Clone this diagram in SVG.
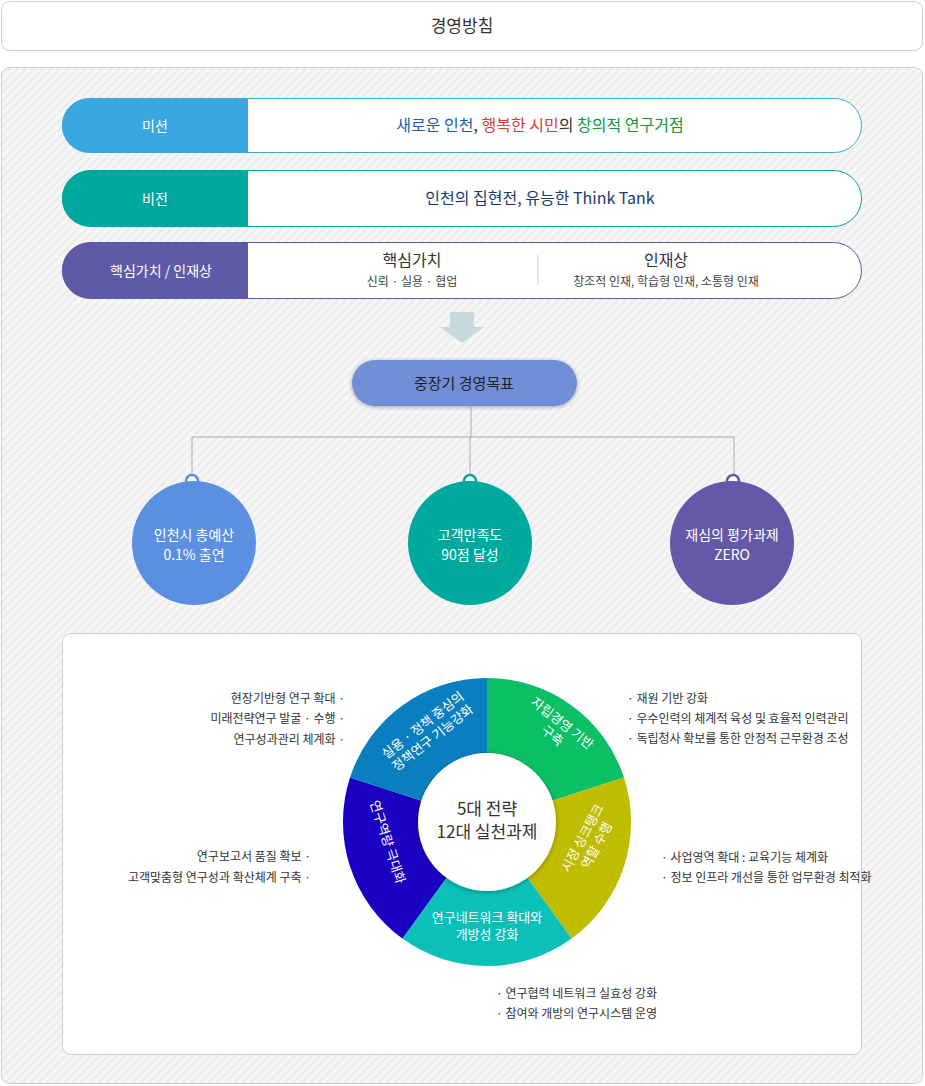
<svg xmlns="http://www.w3.org/2000/svg" width="925" height="1086" viewBox="0 0 925 1086">
<defs>
<pattern id="stripes" width="6" height="6" patternUnits="userSpaceOnUse" patternTransform="rotate(45)">
<rect width="6" height="6" fill="#f6f6f6"/><rect width="2" height="6" fill="#ececec"/>
</pattern>
<filter id="sh" x="-20%" y="-20%" width="140%" height="140%"><feDropShadow dx="0" dy="1" stdDeviation="2" flood-color="#000" flood-opacity="0.35"/></filter>
<style>
text{font-family:"Noto Sans CJK KR","Noto Sans",sans-serif}
.w{fill:#fff}
.lbl{font-size:14px;fill:#fff;text-anchor:middle}
.d{fill:#333}
.b{font-size:12px;fill:#333}
.seg{font-size:13px;fill:#fff;text-anchor:middle}
</style>
</defs>
<rect x="0" y="0" width="925" height="1086" fill="#fff"/>
<g id="title"><rect x="1.5" y="1.5" width="921" height="49" rx="8" fill="#fff" stroke="#cfcfcf"/>
<text x="462" y="32" font-size="17" text-anchor="middle" fill="#333">경영방침</text></g>
<rect x="1.5" y="67.5" width="921" height="1016" rx="8" fill="url(#stripes)" stroke="#cfcfcf"/>

<g id="mission">
<rect x="62.5" y="98.5" width="799" height="54" rx="27" fill="#fff" stroke="#3aa8e0"/>
<path d="M89,98.5 H248 V152.5 H89 A27,27 0 0 1 89,98.5 Z" fill="#3aa8e0"/>
<text x="155" y="131" class="lbl">미션</text>
<text x="540" y="131" font-size="16" text-anchor="middle"><tspan fill="#1a5bb5">새로운 인천</tspan><tspan fill="#333">, </tspan><tspan fill="#e03a3a">행복한 시민</tspan><tspan fill="#333">의 </tspan><tspan fill="#0a9a3a">창의적 연구거점</tspan></text>
</g>
<g id="vision">
<rect x="62.5" y="170.5" width="799" height="56" rx="28" fill="#fff" stroke="#00a99d"/>
<path d="M90,170.5 H248 V226.5 H90 A28,28 0 0 1 90,170.5 Z" fill="#00a99d"/>
<text x="155" y="204" class="lbl">비전</text>
<text x="540" y="204" font-size="16" text-anchor="middle" fill="#1a3a6a">인천의 집현전, 유능한 Think Tank</text>
</g>
<g id="values">
<rect x="62.5" y="242.5" width="799" height="56" rx="28" fill="#fff" stroke="#5f5aa8"/>
<path d="M90,242.5 H248 V298.5 H90 A28,28 0 0 1 90,242.5 Z" fill="#5f5aa8"/>
<text x="161" y="276" class="lbl">핵심가치 / 인재상</text>
<text x="412" y="266" font-size="16" text-anchor="middle" fill="#333">핵심가치</text>
<text x="412" y="286" font-size="12" text-anchor="middle" fill="#444">신뢰 · 실용 · 협업</text>
<line x1="538" y1="255" x2="538" y2="285" stroke="#ccc"/>
<text x="666" y="266" font-size="16" text-anchor="middle" fill="#333">인재상</text>
<text x="666" y="286" font-size="12" text-anchor="middle" fill="#444">창조적 인재, 학습형 인재, 소통형 인재</text>
</g>
<polygon id="arrow" points="450,312 474,312 474,327 484,327 462,343 440,327 450,327" fill="#c8d8df"/>

<g id="goal">
<rect x="352" y="360" width="225" height="46" rx="23" fill="#6f8fd6" filter="url(#sh)"/>
<text x="464" y="389" font-size="15" text-anchor="middle" fill="#222">중장기 경영목표</text>
</g>
<g id="connectors" fill="none" stroke="#aaa">
<path d="M471,406 V437 M192,475 V437 H734 V475 M470,437 V475"/>
<polyline points="352,699 383,699 395,710" stroke="#0a7fc0"/>
<polyline points="583,700 617,700" stroke="#0abf64"/>
<polyline points="586,700 577,708" stroke="#0abf64"/>
<polyline points="630,869 643,869 656,855" stroke="#c0bc00"/>
<polyline points="318,855 331,869 348,869" stroke="#1a00c0"/>
<polyline points="475,966 475,980 488,990" stroke="#0ac0b8"/>
</g>
<g id="goal1"><circle cx="192" cy="481" r="6" fill="#fff" stroke="#5b8fe0" stroke-width="2.5"/>
<circle cx="194" cy="543" r="62" fill="#5b8fe0"/>
<text x="194" y="540" class="lbl">인천시 총예산</text><text x="194" y="560" class="lbl">0.1% 출연</text></g>
<g id="goal2"><circle cx="470" cy="481" r="6" fill="#fff" stroke="#00a99d" stroke-width="2.5"/>
<circle cx="470" cy="543" r="62" fill="#00a99d"/>
<text x="470" y="540" class="lbl">고객만족도</text><text x="470" y="560" class="lbl">90점 달성</text></g>
<g id="goal3"><circle cx="733" cy="481" r="6" fill="#fff" stroke="#6458a8" stroke-width="2.5"/>
<circle cx="732" cy="543" r="62" fill="#6458a8"/>
<text x="732" y="540" class="lbl">재심의 평가과제</text><text x="732" y="560" class="lbl">ZERO</text></g>

<rect x="62.5" y="633.5" width="799" height="421" rx="8" fill="#fff" stroke="#cfcfcf"/>

<g id="ring">
<path d="M487,822 L487,678 A144,144 0 0 1 624,777.5 Z" fill="#0abf64"/>
<path d="M487,822 L624,777.5 A144,144 0 0 1 571.6,938.5 Z" fill="#c0bc00"/>
<path d="M487,822 L571.6,938.5 A144,144 0 0 1 402.4,938.5 Z" fill="#0ac0b8"/>
<path d="M487,822 L402.4,938.5 A144,144 0 0 1 350,777.5 Z" fill="#1a00c0"/>
<path d="M487,822 L350,777.5 A144,144 0 0 1 487,678 Z" fill="#0a7fc0"/>
<circle cx="487" cy="822" r="69" fill="#fff" filter="url(#sh)"/>
<text x="487" y="815" font-size="17" text-anchor="middle" fill="#333">5대 전략</text>
<text x="487" y="838" font-size="17" text-anchor="middle" fill="#333">12대 실천과제</text>
<g transform="translate(428,732) rotate(-38)"><text class="seg" y="-4">실용 · 정책 중심의</text><text class="seg" y="12">정책연구 기능강화</text></g>
<g transform="translate(557,730) rotate(38)"><text class="seg" y="-4">자립경영 기반</text><text class="seg" y="12">구축</text></g>
<g transform="translate(590,842) rotate(-62)"><text class="seg" y="-4">시정 싱크탱크</text><text class="seg" y="12">역할 수행</text></g>
<text class="seg" x="487" y="922">연구네트워크 확대와</text><text class="seg" x="487" y="939">개방성 강화</text>
<g transform="translate(388,842) rotate(72)"><text class="seg" y="5">연구역량 극대화</text></g>
</g>

<g id="notes">
<text class="b" x="345" y="703" text-anchor="end">현장기반형 연구 확대 ·</text>
<text class="b" x="345" y="723" text-anchor="end">미래전략연구 발굴 · 수행 ·</text>
<text class="b" x="345" y="744" text-anchor="end">연구성과관리 체계화 ·</text>
<text class="b" x="627" y="703">· 재원 기반 강화</text>
<text class="b" x="627" y="723">· 우수인력의 체계적 육성 및 효율적 인력관리</text>
<text class="b" x="627" y="743">· 독립청사 확보를 통한 안정적 근무환경 조성</text>
<text class="b" x="661" y="862">· 사업영역 확대 : 교육기능 체계화</text>
<text class="b" x="661" y="882">· 정보 인프라 개선을 통한 업무환경 최적화</text>
<text class="b" x="311" y="861" text-anchor="end">연구보고서 품질 확보 ·</text>
<text class="b" x="311" y="882" text-anchor="end">고객맞춤형  연구성과 확산체계 구축 ·</text>
<text class="b" x="496" y="998">· 연구협력 네트워크 실효성 강화</text>
<text class="b" x="496" y="1018">· 참여와 개방의 연구시스템 운영</text>
</g>
</svg>
